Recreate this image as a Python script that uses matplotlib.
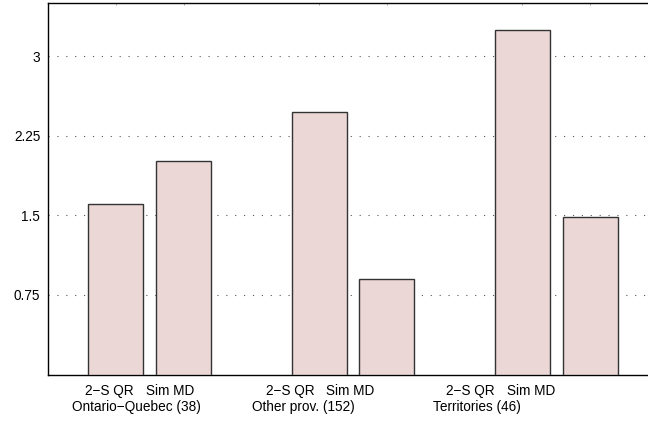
import matplotlib.pyplot as plt

plt.rcParams['font.family'] = ['Liberation Sans', 'DejaVu Sans']

groups = ['Ontario\u2212Quebec (38)', 'Other prov. (152)', 'Territories (46)']
methods = ['2\u2212S QR', 'Sim MD']
qr_vals = [1.61, 2.475, 3.25]
md_vals = [2.01, 0.90, 1.485]
yticks = [0.75, 1.5, 2.25, 3]
ytick_labels = ['0.75', '1.5', '2.25', '3']

W, H = 648, 424
fig = plt.figure(figsize=(W / 100, H / 100), dpi=100)
ax = fig.add_axes([48 / W, 1 - 374.5 / H, 610 / W, 371.5 / H])

pos_qr = [1 + 3 * i for i in range(len(groups))]
pos_md = [p + 1 for p in pos_qr]
bar_kw = dict(width=0.81, color='#ecd7d7', edgecolor='#333333', linewidth=1.0, zorder=3)
ax.bar(pos_qr, qr_vals, **bar_kw)
ax.bar(pos_md, md_vals, **bar_kw)

ax.set_xlim(0, 9)
ax.set_ylim(0, 3.5)
ax.set_yticks(yticks)
ax.set_yticklabels(ytick_labels, fontsize=9.8)
ax.set_xticks(sorted(pos_qr + pos_md))
ax.set_xticklabels([])
ax.tick_params(axis='y', length=0, pad=5.5)
ax.tick_params(axis='x', direction='in', length=1.5, width=0.6, color='#999999', top=True)
ax.yaxis.grid(True, linestyle=(0, (1, 7)), color='#555555', linewidth=0.8, zorder=0)
for s in ax.spines.values():
    s.set_linewidth(1.0)

# category labels below the axis (placed like the original, slightly off the bars)
label_left0, label_step = 85, 180.5
for i, g in enumerate(groups):
    x0 = label_left0 + i * label_step
    fig.text(x0 / W, 1 - 391 / H, methods[0], ha='left', va='center', fontsize=9.8)
    fig.text((x0 + 61) / W, 1 - 391 / H, methods[1], ha='left', va='center', fontsize=9.8)
    fig.text((x0 - 13) / W, 1 - 406.5 / H, g, ha='left', va='center', fontsize=9.8)

fig.savefig('out.png', dpi=100)
